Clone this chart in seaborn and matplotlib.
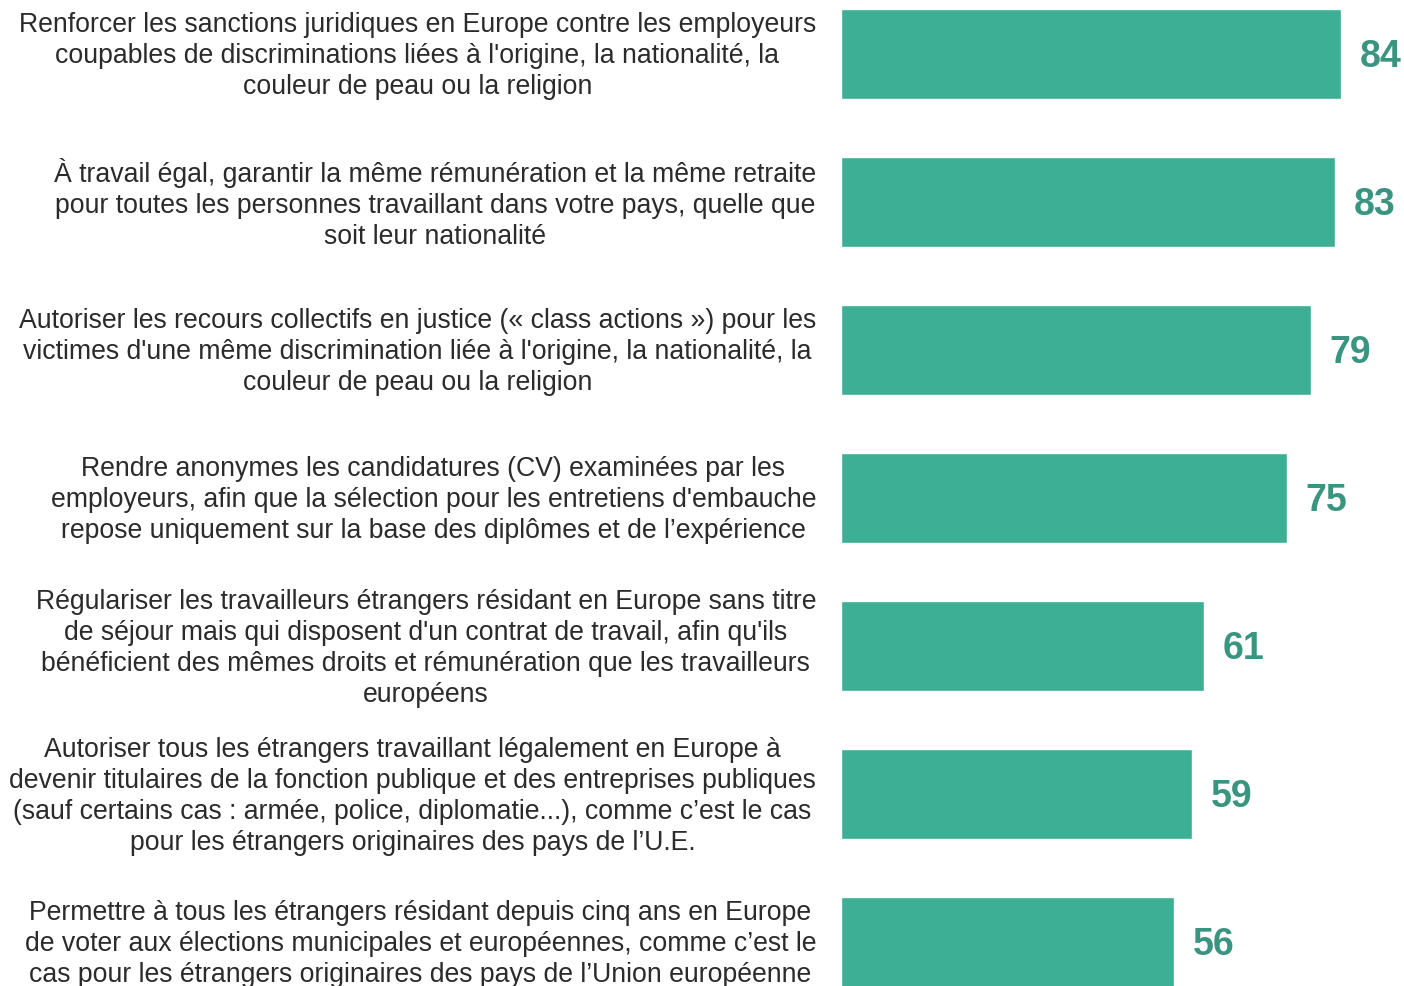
import pandas as pd
import numpy as np
import seaborn as sns
import matplotlib.pyplot as plt
from matplotlib.transforms import ScaledTranslation

# Propositions (libellés) et pourcentages
propositions = [
    "Renforcer les sanctions juridiques en Europe contre les employeurs\ncoupables de discriminations liées à l'origine, la nationalité, la\ncouleur de peau ou la religion",
    "À travail égal, garantir la même rémunération et la même retraite\npour toutes les personnes travaillant dans votre pays, quelle que\nsoit leur nationalité",
    "Autoriser les recours collectifs en justice (« class actions ») pour les\nvictimes d'une même discrimination liée à l'origine, la nationalité, la\ncouleur de peau ou la religion",
    "Rendre anonymes les candidatures (CV) examinées par les\nemployeurs, afin que la sélection pour les entretiens d'embauche\nrepose uniquement sur la base des diplômes et de l’expérience",
    "Régulariser les travailleurs étrangers résidant en Europe sans titre\nde séjour mais qui disposent d'un contrat de travail, afin qu'ils\nbénéficient des mêmes droits et rémunération que les travailleurs\neuropéens",
    "Autoriser tous les étrangers travaillant légalement en Europe à\ndevenir titulaires de la fonction publique et des entreprises publiques\n(sauf certains cas : armée, police, diplomatie...), comme c’est le cas\npour les étrangers originaires des pays de l’U.E.",
    "Permettre à tous les étrangers résidant depuis cinq ans en Europe\nde voter aux élections municipales et européennes, comme c’est le\ncas pour les étrangers originaires des pays de l’Union européenne",
]
valeurs = [84, 83, 79, 75, 61, 59, 56]

df = pd.DataFrame({"proposition": propositions, "valeur": valeurs})

sns.set_style("white")
plt.rcParams["font.family"] = ["Liberation Sans", "DejaVu Sans"]

fig = plt.figure(figsize=(14.04, 9.86), dpi=100)
ax = fig.add_axes([841 / 1404, 0, 1 - 841 / 1404, 1])

sns.barplot(data=df, x="valeur", y="proposition", orient="h",
            color="#3daf94", saturation=1, width=0.608, ax=ax)

for i, v in enumerate(valeurs):
    ax.text(v + 3.1, i + 0.02, str(v), va="center", ha="left",
            fontsize=27, fontweight="bold", color="#3a9580")

ax.set_xlim(0, 94.6)
ax.set_ylim(6.297, -0.365)
ax.set_xlabel("")
ax.set_ylabel("")
ax.set_xticks([])
ax.tick_params(axis="y", length=0, pad=18, labelsize=19.2, labelcolor="#2b2b2b")
# léger décalage vers le haut des libellés
decalage = ScaledTranslation(0, 3.5 / 100, fig.dpi_scale_trans)
for lab in ax.get_yticklabels():
    lab.set_multialignment("center")
    lab.set_linespacing(1.25)
    lab.set_transform(lab.get_transform() + decalage)
sns.despine(ax=ax, left=True, bottom=True, top=True, right=True)

fig.savefig("out.png", dpi=100)
